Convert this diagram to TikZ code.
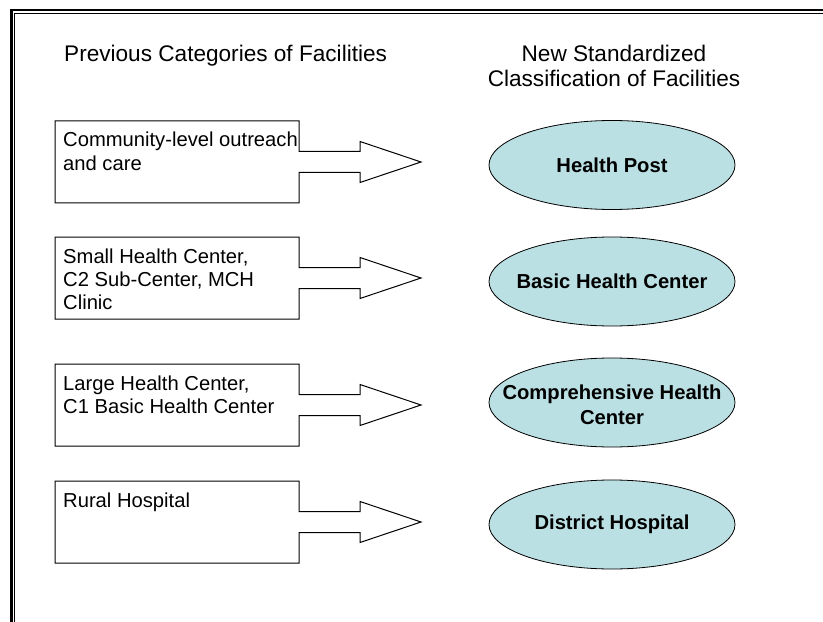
\documentclass[tikz,border=0pt]{standalone}
\usepackage{fontspec}
\setmainfont{Liberation Sans}
\usetikzlibrary{shapes.geometric}
\definecolor{ellfill}{RGB}{187,224,228}
\begin{document}
\begin{tikzpicture}[x=1bp,y=-1bp,
  boxline/.style={draw=black,line width=1bp,line join=miter},
  boxtext/.style={anchor=base west,align=left,inner sep=0pt,font=\fontsize{20.2bp}{23.3bp}\selectfont},
  headtext/.style={inner sep=0pt,font=\fontsize{22.6bp}{25bp}\selectfont},
  facility/.style={ellipse,draw=black,line width=0.8bp,fill=ellfill,minimum width=246bp,minimum height=89bp,inner sep=0pt},
  facilitytext/.style={inner sep=0pt,align=center,font=\fontsize{20.2bp}{25bp}\selectfont\bfseries}]
\fill[white] (0,0) rectangle (823,622);
\path[use as bounding box] (0,0) rectangle (823,622);
% double frame
\draw[line width=2.6bp,line join=miter] (11.3,640) -- (11.3,10.2) -- (840,10.2);
\draw[line width=1.2bp,line join=miter] (14.7,640) -- (14.7,13.6) -- (840,13.6);
% headers
\node[headtext,anchor=base west] (prev) at (64,62) {Previous Categories of Facilities};
\node[headtext,anchor=base,align=center] (new) at (614,87) {New Standardized\\Classification of Facilities};
% callout boxes with arrows
\foreach \T in {121,237,364,481} {
  \draw[boxline] (55,\T) -- (299,\T) -- (299,\T+30.5) -- (360,\T+30.5) -- (360,\T+20.5)
    -- (421,\T+41) -- (360,\T+61.5) -- (360,\T+51.5) -- (299,\T+51.5) -- (299,\T+82) -- (55,\T+82) -- cycle;
}
\node[boxtext] (ta) at (63,170.3) {Community-level outreach\\and care};
\node[boxtext] (tb) at (63,309.6) {Small Health Center,\\C2 Sub-Center, MCH\\Clinic};
\node[boxtext] (tc) at (63,413.3) {Large Health Center,\\C1 Basic Health Center};
\node[boxtext] (td) at (63,507) {Rural Hospital};
% new classification
\node[facility] (hp) at (612,165) {};
\node[facility] (bhc) at (612,281.5) {};
\node[facility] (chc) at (612,402.5) {};
\node[facility] (dh) at (612,524.5) {};
\node[facilitytext] (hpt) at (hp) {Health Post};
\node[facilitytext] (bhct) at (bhc) {Basic Health Center};
\node[facilitytext] (chct) at ([yshift=-2bp]chc.center) {Comprehensive Health\\Center};
\node[facilitytext] (dht) at (dh) {District Hospital};
\end{tikzpicture}
\end{document}
